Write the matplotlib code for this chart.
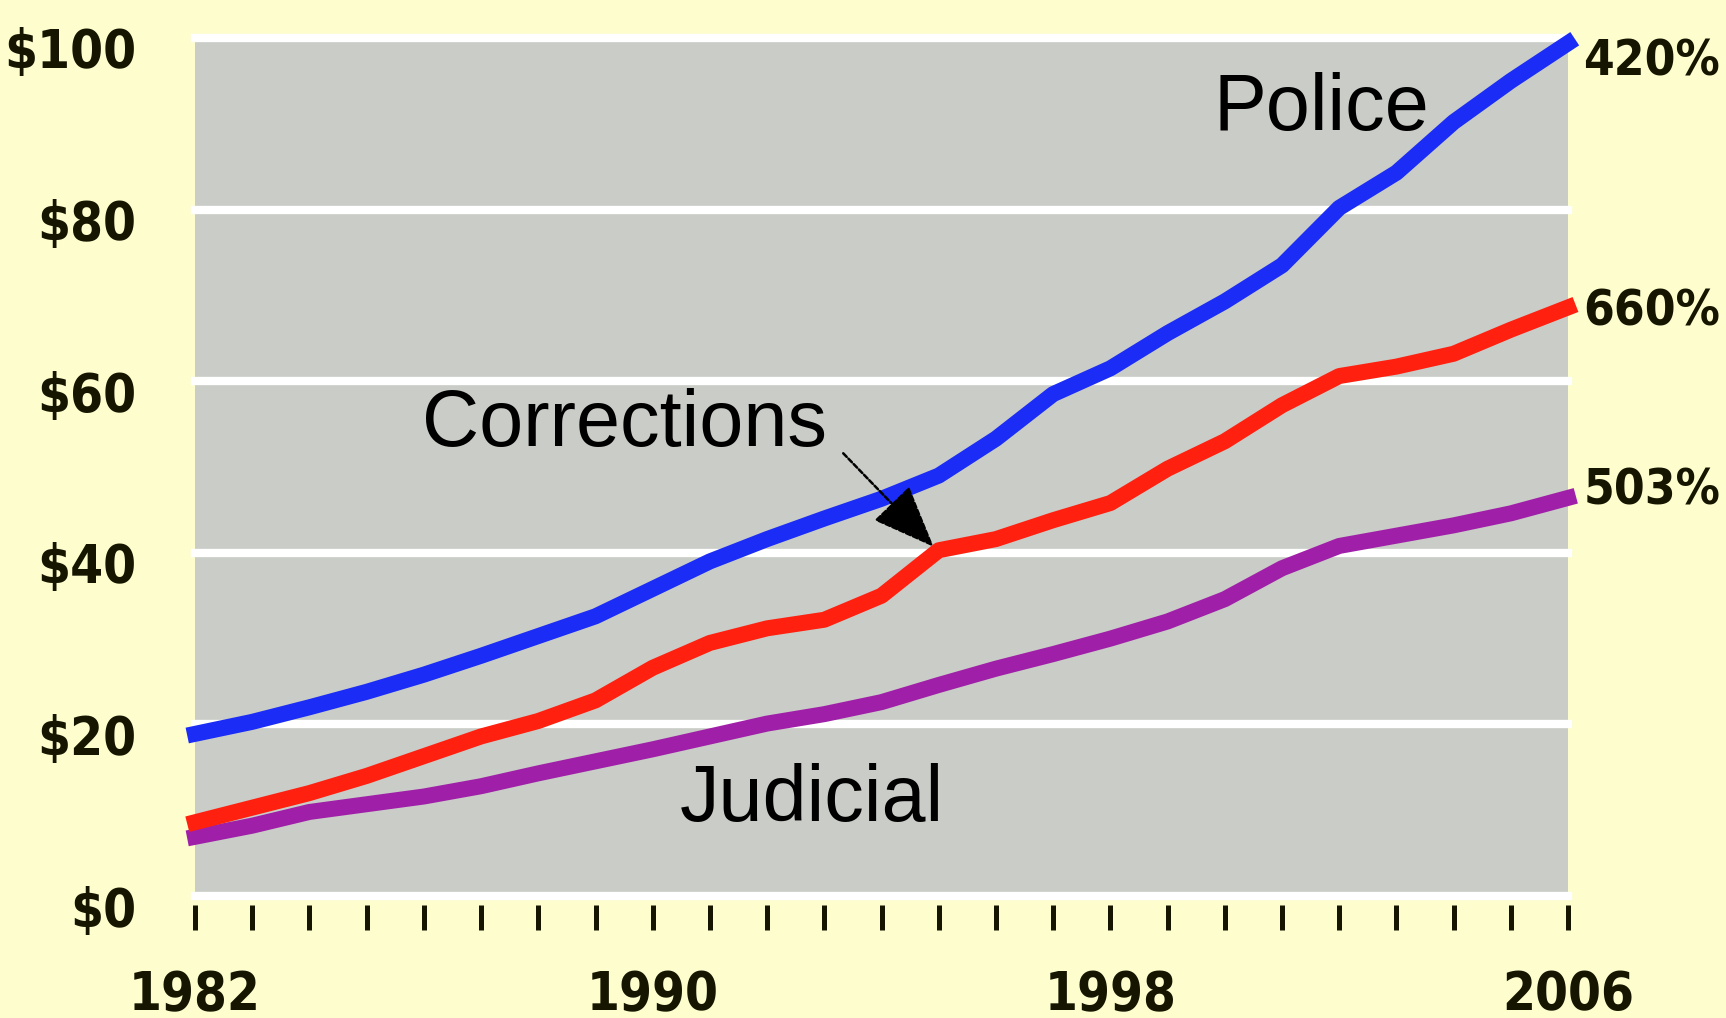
import matplotlib
matplotlib.use("Agg")
import matplotlib.pyplot as plt
from matplotlib.transforms import ScaledTranslation
from matplotlib import font_manager
from matplotlib.font_manager import FontProperties

years = list(range(1982, 2007))
police = [18.9, 20.3, 22.0, 23.8, 25.8, 28.0, 30.3, 32.6, 35.8, 39.0, 41.6, 44.0,
          46.3, 49.0, 53.3, 58.5, 61.5, 65.6, 69.3, 73.5, 80.2, 84.3, 90.2, 95.0, 99.4]
corrections = [8.6, 10.3, 12.0, 14.0, 16.3, 18.6, 20.4, 22.8, 26.6, 29.5, 31.2, 32.2,
               35.0, 40.3, 41.6, 43.8, 45.8, 49.8, 53.0, 57.2, 60.6, 61.7, 63.2, 66.0, 68.6]
judicial = [6.9, 8.2, 9.8, 10.7, 11.6, 12.8, 14.3, 15.7, 17.1, 18.6, 20.1, 21.2,
            22.6, 24.6, 26.5, 28.2, 30.0, 32.0, 34.6, 38.2, 40.8, 42.0, 43.2, 44.6, 46.4]
growth_labels = {"police": "420%", "corrections": "660%", "judicial": "503%"}
year_labels = [1982, 1990, 1998, 2006]
y_ticks = [0, 20, 40, 60, 80, 100]
y_tick_labels = ["$0", "$20", "$40", "$60", "$80", "$100"]

# pick a narrow bold font if available
def find_narrow_bold():
    cands = []
    for f in font_manager.fontManager.ttflist:
        nm = f.name.lower()
        fn = f.fname.lower()
        narrowish = ("narrow" in nm or "condensed" in nm or "narrow" in fn or "condensed" in fn
                     or str(f.stretch) in ("condensed", "semi-condensed", "extra-condensed"))
        w = f.weight if isinstance(f.weight, int) else {"bold": 700, "normal": 400}.get(str(f.weight), 400)
        if narrowish and w >= 600 and "oblique" not in fn and "italic" not in fn:
            pri = 0 if "liberation" in fn else (1 if "dejavu" in fn else 2)
            cands.append((pri, f.fname))
    cands.sort()
    return cands[0][1] if cands else None

narrow_file = find_narrow_bold()
names = {f.name for f in font_manager.fontManager.ttflist}
regular = "Liberation Sans" if "Liberation Sans" in names else "DejaVu Sans"

def numfont(size):
    if narrow_file:
        return FontProperties(fname=narrow_file, size=size)
    return FontProperties(family=regular, weight="bold", size=size)

BG = "#fdfdcd"
PANEL = "#c9ccc7"
DARK = "#161600"
NUMSIZE = 38
PCTSIZE = 35.5

fig = plt.figure(figsize=(17.26, 10.18), dpi=100, facecolor=BG)
ax = fig.add_axes([0.1130, 0.1198, 0.7955, 0.8429])
ax.set_facecolor(PANEL)
ax.set_xlim(1982, 2006)
ax.set_ylim(0, 100)

for s in ax.spines.values():
    s.set_visible(False)
ax.spines["bottom"].set_position(("outward", 6.5))

ax.set_yticks(y_ticks)
ax.set_yticklabels(y_tick_labels)
ax.set_xticks(years)
ax.set_xticklabels([str(y) if y in year_labels else "" for y in years])
ax.tick_params(axis="x", direction="out", length=18, width=3.6, color=DARK, pad=28,
               labelcolor=DARK)
ax.tick_params(axis="y", length=0, pad=42, labelcolor=DARK)
for lab in ax.get_xticklabels() + ax.get_yticklabels():
    lab.set_fontproperties(numfont(NUMSIZE))
off = ScaledTranslation(0, -0.10, fig.dpi_scale_trans)
for lab in ax.get_yticklabels():
    lab.set_transform(lab.get_transform() + off)

ax.set_axisbelow(True)
ax.yaxis.grid(True, color="white", lw=6)
ax.xaxis.grid(False)
for gl in ax.get_ygridlines():
    gl.set_clip_on(False)

lw = 11.5
ax.plot(years, judicial, color="#a01fa8", lw=lw, solid_joinstyle="round", clip_on=False, zorder=3)
ax.plot(years, corrections, color="#ff2010", lw=lw, solid_joinstyle="round", clip_on=False, zorder=4)
ax.plot(years, police, color="#1a2cf5", lw=lw, solid_joinstyle="round", clip_on=False, zorder=5)

label_offsets = {"police": -13, "corrections": -3, "judicial": 5}
for series, key in [(police, "police"), (corrections, "corrections"), (judicial, "judicial")]:
    ax.annotate(growth_labels[key], xy=(years[-1], series[-1]), xytext=(11, label_offsets[key]),
                textcoords="offset points", ha="left", va="center",
                fontproperties=numfont(PCTSIZE), color=DARK, annotation_clip=False)

ax.text(1999.8, 89.3, "Police", fontsize=57, family=regular, color="black",
        ha="left", va="baseline", zorder=6)
ax.text(1985.97, 52.4, "Corrections", fontsize=57, family=regular, color="black",
        ha="left", va="baseline", zorder=6)
ax.text(1990.48, 8.7, "Judicial", fontsize=57, family=regular, color="black",
        ha="left", va="baseline", zorder=6)

ax.annotate("", xy=(1994.91, 40.7), xytext=(1993.33, 51.6),
            arrowprops=dict(arrowstyle="-|>,head_length=1.0,head_width=0.4",
                            color="black", lw=1.8, mutation_scale=40,
                            linestyle=(0, (2, 1)),
                            shrinkA=0, shrinkB=0), zorder=7)

fig.savefig("out.png", dpi=100, facecolor=BG)
